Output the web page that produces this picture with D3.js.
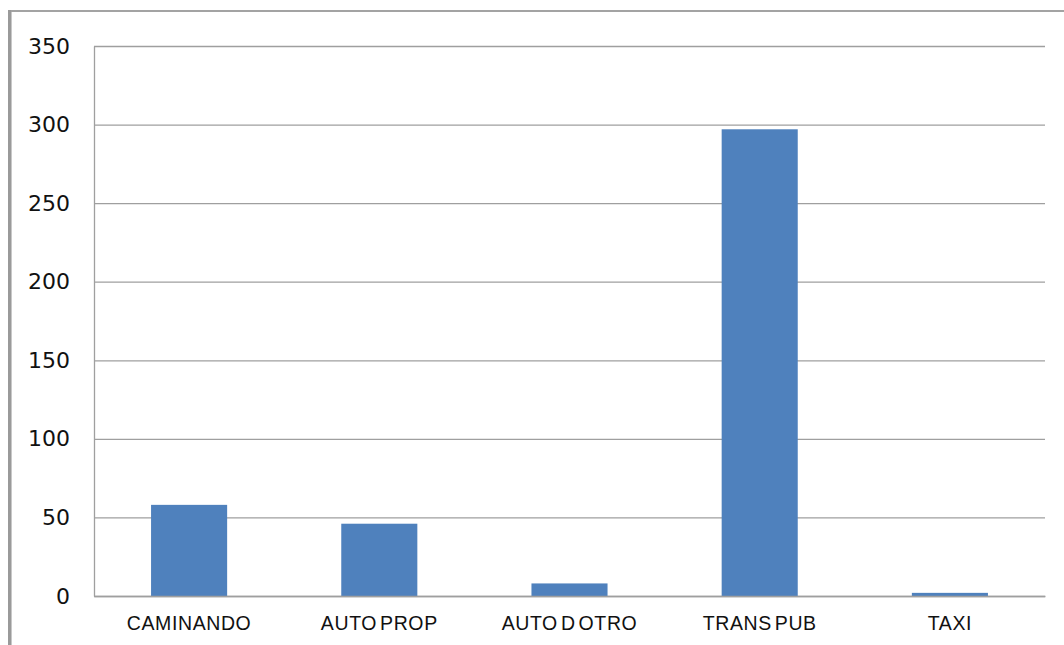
<!DOCTYPE html>
<html>
<head>
<meta charset="utf-8">
<script src="https://cdn.jsdelivr.net/npm/d3@7/dist/d3.min.js"></script>
<style>
  html, body { margin: 0; padding: 0; background: #fff; }
  svg { display: block; }
</style>
</head>
<body>
<svg id="chart" width="1064" height="645"></svg>
<script>
const categories = ["CAMINANDO", "AUTO PROP", "AUTO D OTRO", "TRANS PUB", "TAXI"];
const values = [58, 46, 8, 297, 2];
const yTicks = [0, 50, 100, 150, 200, 250, 300, 350];

const svg = d3.select("#chart");
const W = 1064, H = 645;
const plot = { left: 94, top: 46, right: 1045, bottom: 596 };

svg.append("rect").attr("width", W).attr("height", H).attr("fill", "#fff");

// outer frame
svg.append("line").attr("x1", 8).attr("x2", W).attr("y1", 11).attr("y2", 11)
  .attr("stroke", "#a3a3a3").attr("stroke-width", 2);
svg.append("line").attr("x1", 9.5).attr("x2", 9.5).attr("y1", 10).attr("y2", H)
  .attr("stroke", "#9a9a9a").attr("stroke-width", 3);
svg.append("line").attr("x1", 11.5).attr("x2", 11.5).attr("y1", 12).attr("y2", H)
  .attr("stroke", "#c8c8c8").attr("stroke-width", 1);

const y = d3.scaleLinear().domain([0, 350]).range([plot.bottom, plot.top]);
const x = d3.scaleBand().domain(categories).range([plot.left, plot.right]).padding(0);

// y axis with gridlines
const yAxis = d3.axisLeft(y).tickValues(yTicks)
  .tickSize(-(plot.right - plot.left)).tickSizeOuter(0).tickPadding(24)
  .tickFormat(d3.format("d"));
const gy = svg.append("g").attr("transform", `translate(${plot.left},0)`).call(yAxis);
gy.select(".domain").attr("stroke", "#9f9f9f").attr("stroke-width", 1.3);
gy.selectAll(".tick line").attr("stroke", "#9f9f9f").attr("stroke-width", 1.3);
gy.selectAll(".tick text")
  .attr("font-family", "'DejaVu Sans', sans-serif")
  .attr("font-size", 22)
  .attr("fill", "#111");

// bars
const barFrac = 0.4;
svg.append("g").selectAll("rect")
  .data(categories.map((c, i) => ({ c, v: values[i] })))
  .join("rect")
  .attr("x", d => x(d.c) + x.bandwidth() * (1 - barFrac) / 2)
  .attr("width", x.bandwidth() * barFrac)
  .attr("y", d => y(d.v))
  .attr("height", d => y(0) - y(d.v))
  .attr("fill", "#4f81bd");

// x axis labels
const xAxis = d3.axisBottom(x).tickSize(0).tickPadding(20);
const gx = svg.append("g").attr("transform", `translate(0,${plot.bottom})`).call(xAxis);
gx.select(".domain").attr("stroke", "#9f9f9f").attr("stroke-width", 1.3);
gx.selectAll(".tick text")
  .attr("font-family", "'Liberation Sans', Arial, sans-serif")
  .attr("font-size", 19.5)
  .attr("letter-spacing", "0.6px")
  .attr("word-spacing", "-3px")
  .attr("fill", "#111");
</script>
</body>
</html>
